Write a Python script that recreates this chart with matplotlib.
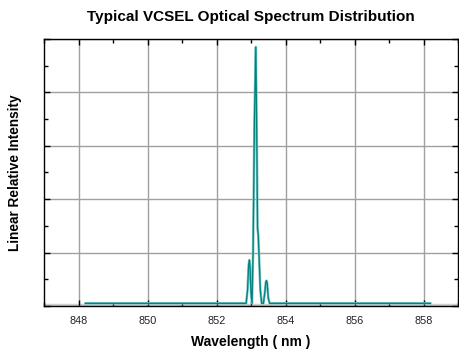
import matplotlib
matplotlib.use("Agg")
import matplotlib.pyplot as plt
from matplotlib.ticker import MultipleLocator, NullFormatter

plt.rcParams['font.family'] = ['Liberation Sans', 'DejaVu Sans']

# Spectrum points (wavelength in nm, linear relative intensity)
wavelength = [848.2, 852.86, 852.90, 852.93, 852.95, 852.97, 853.00, 853.03,
              853.06, 853.10, 853.14, 853.17, 853.19, 853.21, 853.23, 853.27,
              853.31, 853.36, 853.40, 853.43, 853.45, 853.47, 853.50, 853.54, 858.2]
intensity = [0.01, 0.01, 0.06, 0.15, 0.172, 0.15, 0.05, 0.01,
             0.20, 0.70, 0.97, 0.60, 0.29, 0.266, 0.20, 0.06,
             0.01, 0.01, 0.05, 0.09, 0.095, 0.085, 0.03, 0.01, 0.01]
xticks = [848, 850, 852, 854, 856, 858]
xticklabels = ['848', '850', '852', '854', '856', '858']

fig = plt.figure(figsize=(4.59, 3.52), dpi=100)
ax = fig.add_axes([44/459, 46/352, 414/459, 267/352])

ax.axhline(0.004, color='#d0d0d0', lw=2.5, zorder=1)
ax.plot(wavelength, intensity, color='#7cc8c8', lw=1.8, zorder=2)
ax.plot(wavelength, intensity, color='#008080', lw=0.9, zorder=3)

ax.set_xlim(847, 859)
ax.set_ylim(0, 1.0)
ax.set_xticks(xticks)
ax.set_xticklabels(xticklabels, fontsize=7.8, color='#222222')
ax.xaxis.set_minor_locator(MultipleLocator(1))
ax.yaxis.set_major_locator(MultipleLocator(0.2))
ax.yaxis.set_minor_locator(MultipleLocator(0.1))
ax.yaxis.set_major_formatter(NullFormatter())
ax.tick_params(which='both', direction='in', top=True, right=True, color='black')
ax.tick_params(which='major', length=4, width=1)
ax.tick_params(which='minor', length=3, width=1)
ax.tick_params(axis='x', pad=7)
ax.grid(True, which='major', color='#a0a0a0', lw=1.0)
for s in ax.spines.values():
    s.set_color('black')
    s.set_linewidth(1.0)

ax.set_title('Typical VCSEL Optical Spectrum Distribution', fontsize=11, fontweight='bold', pad=13)
ax.set_xlabel('Wavelength ( nm )', fontsize=10, fontweight='bold', labelpad=7)
ax.set_ylabel('Linear Relative Intensity', fontsize=9.8, fontweight='bold', labelpad=12)

fig.savefig('out.png', dpi=100)
